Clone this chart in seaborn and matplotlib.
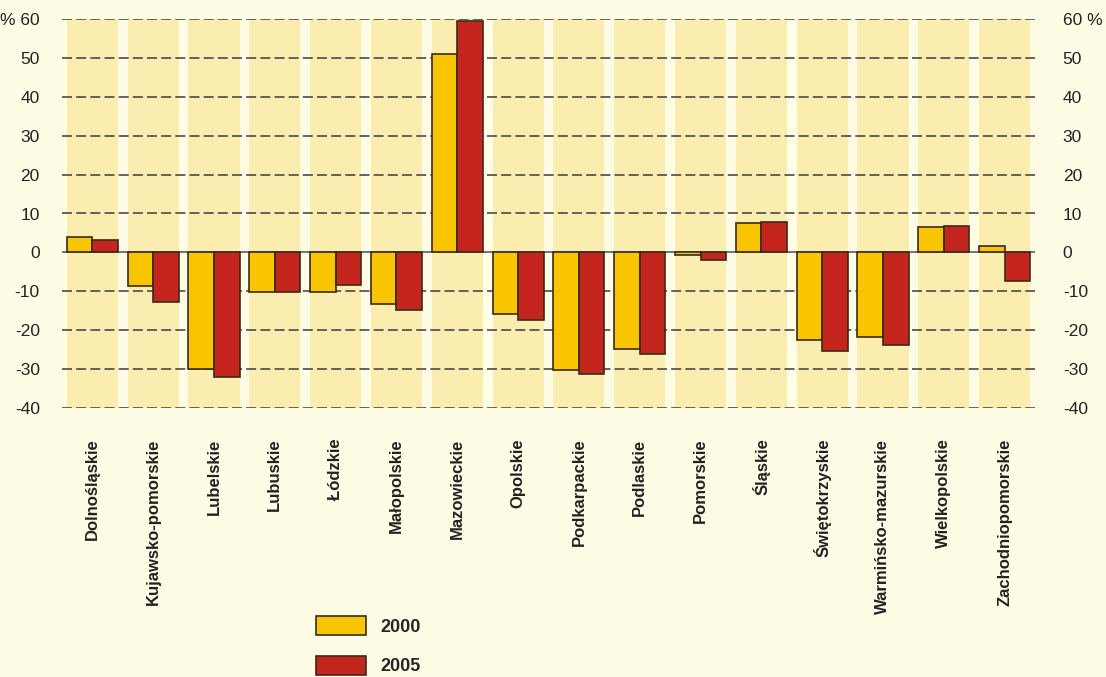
import pandas as pd
import numpy as np
import seaborn as sns
import matplotlib.pyplot as plt
from matplotlib.patches import Patch

# %%
regions = ['Dolnośląskie', 'Kujawsko-pomorskie', 'Lubelskie', 'Lubuskie', 'Łódzkie',
           'Małopolskie', 'Mazowieckie', 'Opolskie', 'Podkarpackie', 'Podlaskie',
           'Pomorskie', 'Śląskie', 'Świętokrzyskie', 'Warmińsko-mazurskie',
           'Wielkopolskie', 'Zachodniopomorskie']
val_2000 = [4.0, -8.6, -30.0, -10.2, -10.2, -13.2, 51.0, -15.9, -30.2, -24.8,
            -0.6, 7.6, -22.5, -21.8, 6.6, 1.7]
val_2005 = [3.2, -12.7, -32.0, -10.2, -8.5, -14.8, 59.5, -17.4, -31.2, -26.1,
            -1.9, 7.9, -25.3, -23.8, 6.8, -7.3]
years = ['2000', '2005']
yticks = [-40, -30, -20, -10, 0, 10, 20, 30, 40, 50, 60]

# %%
df = pd.DataFrame({
    'region': regions * 2,
    'year': [years[0]] * len(regions) + [years[1]] * len(regions),
    'value': val_2000 + val_2005,
})

bg = '#FEFCE4'
band = '#FBEDB0'
colors = {'2000': '#F8C500', '2005': '#C4261E'}
edge = '#3A2A1A'

sns.set_style('white')
plt.rcParams['font.family'] = ['Liberation Sans', 'DejaVu Sans']

fig = plt.figure(figsize=(11.06, 6.77), dpi=100, facecolor=bg)
ax = fig.add_axes([62 / 1106, 1 - 408 / 677, (1035 - 62) / 1106, (408 - 19) / 677])
ax.set_facecolor(bg)

for i in range(len(regions)):
    ax.axvspan(i - 0.42, i + 0.42, color=band, zorder=0, lw=0)
for t in yticks:
    if t == 0:
        continue
    ax.axhline(t, color='#4a4a4a', lw=1.2, ls=(0, (6, 2.5)), zorder=1)

sns.barplot(data=df, x='region', y='value', hue='year', order=regions,
            hue_order=years, palette=colors, width=0.84, edgecolor=edge,
            linewidth=1.2, saturation=1, ax=ax, legend=False, zorder=3)
ax.axhline(0, color='#6a6a6a', lw=1.3, zorder=2)

ax.set_xlim(-0.5, len(regions) - 0.5)
ax.set_ylim(-40, 60)
ax.set_yticks(yticks)
ax.set_yticklabels(['% 60' if t == 60 else str(t) for t in yticks], fontsize=12.5, color='#222222')
ax.tick_params(axis='y', length=0, pad=16)
ax.set_xticks(range(len(regions)))
ax.set_xticklabels(regions, rotation=90, fontsize=12, fontweight='bold', color='#222222')
ax.tick_params(axis='x', length=0, pad=22)
ax.set_xlabel('')
ax.set_ylabel('')
for s in ax.spines.values():
    s.set_visible(False)

ax2 = ax.twinx()
ax2.set_ylim(-40, 60)
ax2.set_yticks(yticks)
ax2.set_yticklabels(['60 %' if t == 60 else str(t) for t in yticks], fontsize=12.5, color='#222222')
ax2.tick_params(axis='y', length=0, pad=20)
for s in ax2.spines.values():
    s.set_visible(False)

handles = [Patch(facecolor=colors[y], edgecolor=edge, lw=1.2, label=y) for y in years]
leg = fig.legend(handles=handles, loc='upper left', bbox_to_anchor=(300 / 1106, 1 - 600 / 677),
                 frameon=False, handlelength=2.75, handleheight=1.25, labelspacing=1.1,
                 handletextpad=0.8, prop={'size': 13, 'weight': 'bold'})

fig.savefig('out.png', dpi=100, facecolor=bg)
